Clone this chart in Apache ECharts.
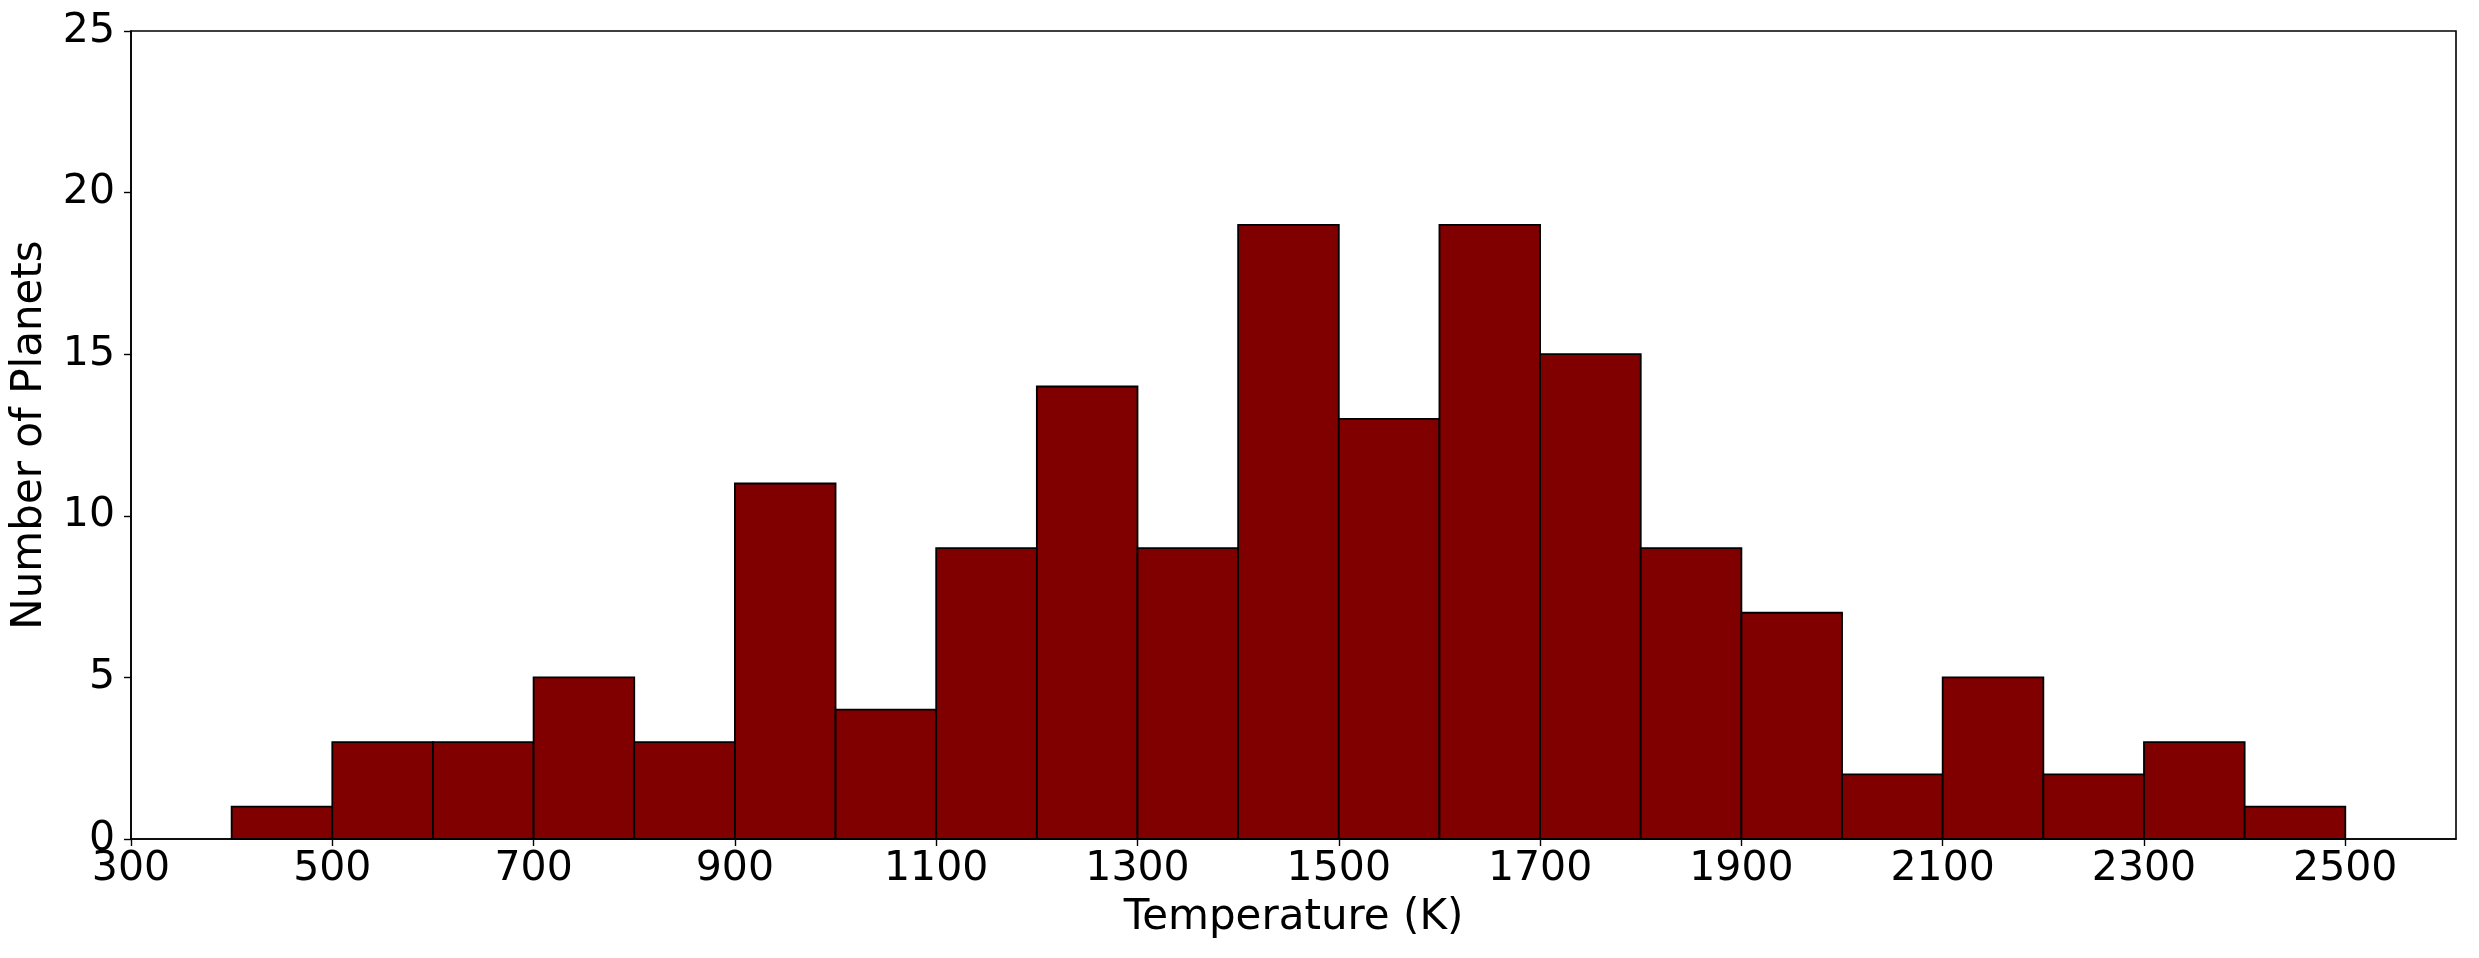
<!DOCTYPE html>
<html>
<head>
<meta charset="utf-8">
<title>Temperature histogram</title>
<script src="https://cdn.jsdelivr.net/npm/echarts@6/dist/echarts.min.js"></script>
<style>
    html, body {margin: 0; padding: 0; background: #ffffff;}
    #hist {width: 2479px; height: 958px;}
</style>
</head>
<body>
<div id="hist"></div>
<script>
// bin edges (K) and planet counts per bin
var binStart = [400, 500, 600, 700, 800, 900, 1000, 1100, 1200, 1300, 1400, 1500, 1600, 1700, 1800, 1900, 2000, 2100, 2200, 2300, 2400];
var binEnd = [500, 600, 700, 800, 900, 1000, 1100, 1200, 1300, 1400, 1500, 1600, 1700, 1800, 1900, 2000, 2100, 2200, 2300, 2400, 2500];
var counts = [1, 3, 3, 5, 3, 11, 4, 9, 14, 9, 19, 13, 19, 15, 9, 7, 2, 5, 2, 3, 1];
var xTicks = [300, 500, 700, 900, 1100, 1300, 1500, 1700, 1900, 2100, 2300, 2500];
var yTicks = [0, 5, 10, 15, 20, 25];

var TempHist = {
    chart: null
};

TempHist.init = function () {
    TempHist.chart = echarts.init(document.getElementById('hist'), null, {renderer: 'canvas'});
    var data = [];
    for (var i = 0; i < counts.length; i++) {
        data.push([binStart[i], binEnd[i], counts[i]]);
    }
    var font = 'DejaVu Sans';
    var option = {
        backgroundColor: '#ffffff',
        animation: false,
        grid: {
            left: 131,
            top: 31,
            width: 2325,
            height: 808,
            show: true,
            borderColor: '#000000',
            borderWidth: 1.6,
            backgroundColor: 'transparent'
        },
        xAxis: {
            type: 'value',
            min: xTicks[0],
            max: 2610,
            interval: 200,
            splitLine: {show: false},
            axisLine: {show: true, onZero: false, lineStyle: {color: '#000000', width: 1.6}},
            axisTick: {show: true, length: 7, lineStyle: {color: '#000000', width: 1.4}},
            axisLabel: {
                color: '#000000',
                fontFamily: font,
                fontSize: 41,
                margin: 10,
                showMaxLabel: false,
                formatter: function (v) {
                    return xTicks.indexOf(v) >= 0 ? String(v) : '';
                }
            },
            name: 'Temperature (K)',
            nameLocation: 'middle',
            nameGap: 58,
            nameTextStyle: {color: '#000000', fontFamily: font, fontSize: 42}
        },
        yAxis: {
            type: 'value',
            min: yTicks[0],
            max: yTicks[yTicks.length - 1],
            interval: 5,
            splitLine: {show: false},
            axisLine: {show: true, lineStyle: {color: '#000000', width: 1.6}},
            axisTick: {show: true, length: 7, lineStyle: {color: '#000000', width: 1.4}},
            axisLabel: {
                color: '#000000',
                fontFamily: font,
                fontSize: 41,
                margin: 16
            },
            name: 'Number of Planets',
            nameLocation: 'middle',
            nameGap: 80,
            nameTextStyle: {color: '#000000', fontFamily: font, fontSize: 42}
        },
        series: [{
            type: 'custom',
            name: 'planets',
            data: data,
            encode: {x: [0, 1], y: 2},
            renderItem: function (params, api) {
                var p0 = api.coord([api.value(0), 0]);
                var p1 = api.coord([api.value(1), api.value(2)]);
                return {
                    type: 'rect',
                    shape: {
                        x: p0[0],
                        y: p1[1],
                        width: p1[0] - p0[0],
                        height: p0[1] - p1[1]
                    },
                    style: {
                        fill: '#800000',
                        stroke: '#000000',
                        lineWidth: 1.8
                    }
                };
            }
        }]
    };
    TempHist.chart.setOption(option);
};

TempHist.init();
</script>
</body>
</html>
